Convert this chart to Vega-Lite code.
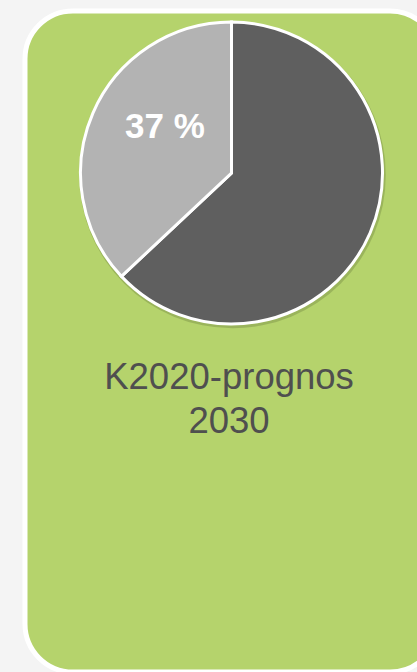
{
  "$schema": "https://vega.github.io/schema/vega-lite/v6.json",
  "width": 413,
  "height": 661,
  "autosize": {"type": "none"},
  "padding": {"left": 25, "top": 11, "right": 0, "bottom": 0},
  "background": "#f4f4f4",
  "view": {"fill": "#b5d36c", "stroke": "#ffffff", "strokeWidth": 5, "cornerRadius": 48},
  "config": {"font": "Liberation Sans"},
  "layer": [
    {
      "data": {"values": [{"shadow": 1}]},
      "mark": {"type": "point", "shape": "circle", "filled": true, "color": "#3a4a20", "opacity": 0.22, "size": 94000, "yOffset": 2, "xOffset": 1},
      "encoding": {
        "x": {"datum": 50, "type": "quantitative", "scale": {"domain": [0, 100]}, "axis": null},
        "y": {"datum": 24.51, "type": "quantitative", "scale": {"domain": [0, 100], "reverse": true}, "axis": null}
      }
    },
    {
      "data": {"values": [
        {"slice": "övrigt", "value": 63, "order": 1},
        {"slice": "andel", "value": 37, "order": 2}
      ]},
      "mark": {"type": "arc", "outerRadius": 151, "stroke": "#ffffff", "strokeWidth": 3},
      "encoding": {
        "theta": {"field": "value", "type": "quantitative", "stack": true},
        "order": {"field": "order", "type": "quantitative"},
        "color": {"field": "slice", "type": "nominal", "scale": {"domain": ["övrigt", "andel"], "range": ["#5f5f5f", "#b3b3b3"]}, "legend": null},
        "x": {"datum": 50, "type": "quantitative"},
        "y": {"datum": 24.51, "type": "quantitative"}
      }
    },
    {
      "data": {"values": [{"label": "37 %"}]},
      "mark": {"type": "text", "fontSize": 35, "fontWeight": "bold", "color": "#ffffff", "align": "center", "baseline": "alphabetic"},
      "encoding": {
        "text": {"field": "label"},
        "x": {"datum": 33.9, "type": "quantitative"},
        "y": {"datum": 19.21, "type": "quantitative"}
      }
    },
    {
      "data": {"values": [{"label": "K2020-prognos\n2030"}]},
      "mark": {"type": "text", "fontSize": 36.5, "color": "#4f4f4f", "align": "center", "baseline": "alphabetic", "lineBreak": "\n", "lineHeight": 44},
      "encoding": {
        "text": {"field": "label"},
        "x": {"datum": 49.4, "type": "quantitative"},
        "y": {"datum": 57.19, "type": "quantitative"}
      }
    }
  ]
}
